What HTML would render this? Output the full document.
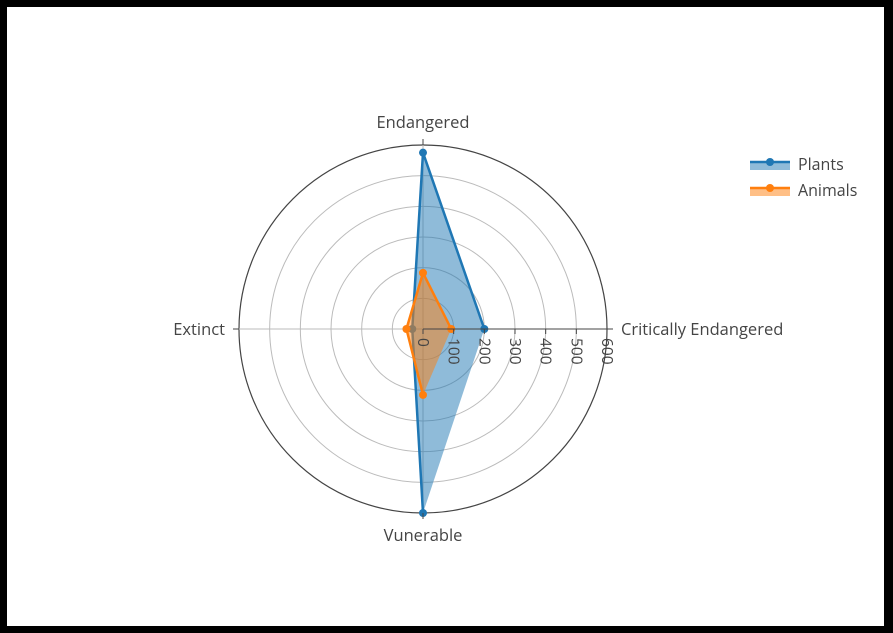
<!DOCTYPE html>
<html><head><meta charset="utf-8"><style>
html,body{margin:0;padding:0;background:#000;}
svg{display:block;font-family:"Open Sans","Liberation Sans",sans-serif;}
</style></head><body>
<svg id="chart" width="893" height="633" viewBox="0 0 893 633">
<rect x="0" y="0" width="893" height="633" fill="#000"/>
<rect x="7" y="7" width="877" height="619" fill="#fff"/>
<g id="grid"></g><g id="series"></g><g id="axes"></g>
<g>
 <g>
  <rect x="750" y="162" width="40" height="8" fill="#1f77b4" fill-opacity="0.5"/>
  <line x1="750" y1="162" x2="790" y2="162" stroke="#1f77b4" stroke-width="2.5"/>
  <circle cx="770" cy="162" r="4" fill="#1f77b4"/>
  <text x="798" y="170" font-size="16" fill="#444">Plants</text>
 </g>
 <g>
  <rect x="750" y="188" width="40" height="8" fill="#ff7f0e" fill-opacity="0.5"/>
  <line x1="750" y1="188" x2="790" y2="188" stroke="#ff7f0e" stroke-width="2.5"/>
  <circle cx="770" cy="188" r="4" fill="#ff7f0e"/>
  <text x="798" y="196" font-size="16" fill="#444">Animals</text>
 </g>
</g>
</svg>
<script>
const categories = ["Critically Endangered","Endangered","Extinct","Vunerable"];
const plants = [200, 575, 35, 600];
const animals = [92, 183, 54, 215];
const radialTicks = [0,100,200,300,400,500,600];
const rMax = 600;
const cx = 423, cy = 329, R = 184;
const NS = "http://www.w3.org/2000/svg";
function rs(v){return v/rMax*R;}
function ang(i){return i*2*Math.PI/categories.length;}
function pt(i,v){const a=ang(i);return [cx+rs(v)*Math.cos(a), cy-rs(v)*Math.sin(a)];}
function mk(tag,attrs,parent){const e=document.createElementNS(NS,tag);for(const k in attrs)e.setAttribute(k,attrs[k]);parent.appendChild(e);return e;}
const grid=document.getElementById('grid'), series=document.getElementById('series'), axes=document.getElementById('axes');
radialTicks.forEach((t,k)=>{ if(t===0) return;
  const c=mk('circle',{cx:cx,cy:cy,r:rs(t),fill:'none',stroke:t===rMax?'#444':'#bbb','stroke-width':t===rMax?1.2:1},grid);
  
  
});
categories.forEach((c,i)=>{
  const p=pt(i,rMax);
  const l=mk('line',{x1:cx,y1:cy,x2:p[0],y2:p[1],stroke:'#bbb','stroke-width':1},grid);
  
  
  const a=ang(i), p1=pt(i,rMax), p2=[cx+(R+6)*Math.cos(a), cy-(R+6)*Math.sin(a)];
  const tk=mk('line',{x1:p1[0],y1:p1[1],x2:p2[0],y2:p2[1],stroke:'#444','stroke-width':1},axes);
  
  
  const lp=[cx+(R+14)*Math.cos(a), cy-(R+14)*Math.sin(a)];
  let anchor='middle', dy=6;
  if(Math.cos(a)>0.5)anchor='start'; else if(Math.cos(a)<-0.5)anchor='end';
  if(Math.sin(a)>0.5)dy=-3; else if(Math.sin(a)<-0.5)dy=14;
  const tx=mk('text',{x:lp[0],y:lp[1]+dy,'text-anchor':anchor,'font-size':16.5,fill:'#444'},axes);
  tx.textContent=c;
  
  
});
function drawSeries(vals,color,name){
  const pts=vals.map((v,i)=>pt(i,v));
  const f=mk('polygon',{points:pts.map(p=>p.join(',')).join(' '),fill:color,'fill-opacity':0.5,stroke:'none'},series);
  
  
  const l=mk('polyline',{points:pts.map(p=>p.join(',')).join(' '),fill:'none',stroke:color,'stroke-width':2.5,'stroke-linejoin':'round'},series);
  
  
  pts.forEach(p=>{const m=mk('circle',{cx:p[0],cy:p[1],r:4,fill:color},series);
    
    });
}
drawSeries(plants,'#1f77b4','plants');
drawSeries(animals,'#ff7f0e','animals');
const ax=mk('line',{x1:cx,y1:cy,x2:cx+R,y2:cy,stroke:'#444','stroke-width':1},axes);


radialTicks.forEach(t=>{
  const x=cx+rs(t);
  const tk=mk('line',{x1:x,y1:cy,x2:x,y2:cy+5,stroke:'#444','stroke-width':1},axes);
  
  
  const tx=mk('text',{x:0,y:0,'font-size':15.5,fill:'#444',transform:`translate(${x-5},${cy+9}) rotate(90)`},axes);
  tx.textContent=t;
  
  
});
</script>
</body></html>
